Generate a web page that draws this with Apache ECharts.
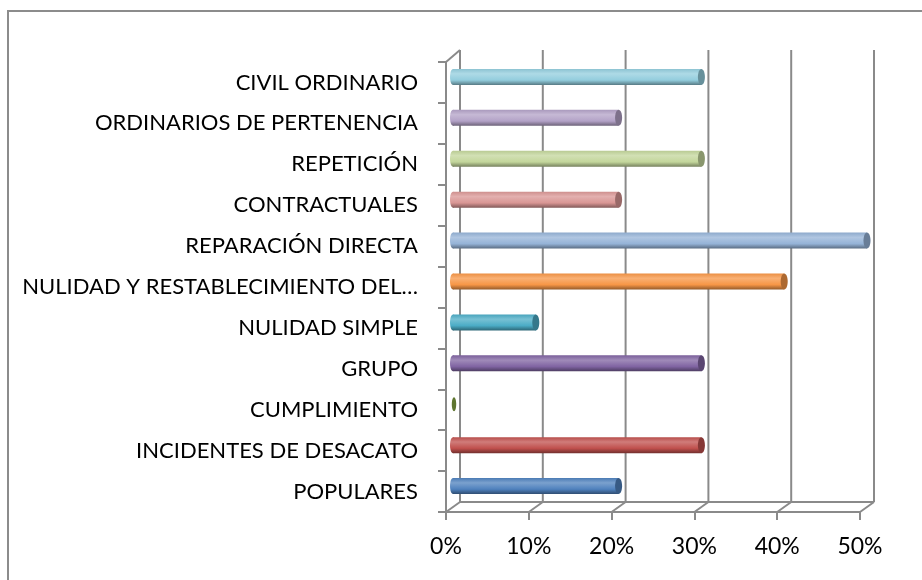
<!DOCTYPE html>
<html>
<head>
<meta charset="utf-8">
<script src="https://cdn.jsdelivr.net/npm/echarts@6/dist/echarts.min.js"></script>
<style>html,body{margin:0;padding:0;background:#fff;}#c{width:922px;height:580px;}</style>
</head>
<body>
<div id="c"></div>
<script>
var categories = ['POPULARES','INCIDENTES DE DESACATO','CUMPLIMIENTO','GRUPO','NULIDAD SIMPLE','NULIDAD Y RESTABLECIMIENTO DEL…','REPARACIÓN DIRECTA','CONTRACTUALES','REPETICIÓN','ORDINARIOS DE PERTENENCIA','CIVIL ORDINARIO'];
var values = [20, 30, 0, 30, 10, 40, 50, 20, 30, 20, 30];
var barColors = ['#4F81BD','#C0504D','#77933C','#8064A2','#4BACC6','#F79646','#95B3D7','#D99694','#C3D69B','#B3A2C7','#93CDDD'];
var xTicks = [0, 10, 20, 30, 40, 50];

var DX = 14, DY = -10;      // depth offset of the back wall
var BX = 7, BY = -5.5;      // bars sit at mid depth
var FONT = 'Lato';
var GRID = '#8a8a8a';

function hexToRgb(h){h=h.replace('#','');return [parseInt(h.substr(0,2),16),parseInt(h.substr(2,2),16),parseInt(h.substr(4,2),16)];}
function mix(c, t){ // t>0 towards white, t<0 towards black
  var r = hexToRgb(c);
  var o = r.map(function(v){ return Math.round(t>0 ? v+(255-v)*t : v*(1+t)); });
  return 'rgb('+o.join(',')+')';
}

var barData = values.map(function(v,i){ return [i, v]; });

function renderBar(params, api){
  var idx = api.value(0), v = api.value(1);
  var c = barColors[idx];
  var p0 = api.coord([0, idx]), p1 = api.coord([v, idx]);
  var h = 16;
  var x0 = p0[0]+BX, x1 = p1[0]+BX, cy = p0[1]+BY;
  if (v === 0) {
    return {type:'ellipse', shape:{cx:x0+1, cy:cy, rx:2.2, ry:7}, style:{fill:mix(c,-0.2)}};
  }
  var grad = new echarts.graphic.LinearGradient(0,0,0,1,[
    {offset:0, color:mix(c,-0.05)},
    {offset:0.3, color:mix(c,0.25)},
    {offset:0.7, color:c},
    {offset:1, color:mix(c,-0.4)}
  ]);
  return {type:'group', children:[
    {type:'ellipse', shape:{cx:x0, cy:cy, rx:3, ry:h/2}, style:{fill:grad}},
    {type:'rect', shape:{x:x0, y:cy-h/2, width:x1-x0, height:h}, style:{fill:grad}},
    {type:'ellipse', shape:{cx:x1, cy:cy, rx:3.5, ry:h/2}, style:{fill:mix(c,-0.3)}}
  ]};
}

function renderFrame(params, api){
  var cs = params.coordSys;
  var top = cs.y;
  var bot = cs.y + cs.height;
  var ch = [];
  var ls = {stroke:GRID, lineWidth:2};
  xTicks.forEach(function(t){
    var x = api.coord([t, 0])[0];
    ch.push({type:'line', shape:{x1:x+DX, y1:top+DY-2, x2:x+DX, y2:bot+DY}, style:ls});
    ch.push({type:'line', shape:{x1:x, y1:bot, x2:x+DX, y2:bot+DY}, style:ls});
  });
  var xa = api.coord([xTicks[0],0])[0], xb = api.coord([xTicks[xTicks.length-1],0])[0];
  ch.push({type:'line', shape:{x1:xa+DX, y1:bot+DY, x2:xb+DX, y2:bot+DY}, style:ls});
  ch.push({type:'line', shape:{x1:xa, y1:top, x2:xa+DX, y2:top+DY-2}, style:ls});
  return {type:'group', children:ch};
}

var chart = echarts.init(document.getElementById('c'), null, {renderer:'canvas'});
chart.setOption({
  animation:false,
  backgroundColor:'#fff',
  graphic:[{type:'rect', shape:{x:8, y:11, width:940, height:620}, style:{fill:'none', stroke:'#8c8c8c', lineWidth:2}, z:-10}],
  grid:{left:446, right:62, top:62, bottom:68},
  xAxis:{type:'value', min:0, max:50, interval:10,
    axisLine:{show:true, lineStyle:{color:GRID, width:2}},
    axisTick:{show:true, length:8, lineStyle:{color:GRID, width:2}},
    splitLine:{show:false},
    axisLabel:{formatter:'{value}%', color:'#000', fontFamily:FONT, fontSize:23, margin:23}
  },
  yAxis:{type:'category', data:categories,
    axisLine:{show:true, lineStyle:{color:GRID, width:2}},
    axisTick:{show:true, length:8, lineStyle:{color:GRID, width:2}},
    axisLabel:{color:'#000', fontFamily:FONT, fontSize:22, margin:28}
  },
  series:[
    {type:'custom', name:'frame', renderItem:renderFrame, data:[[0,0]], encode:{x:1,y:0}, clip:false, z:1, silent:true},
    {type:'custom', name:'bars', renderItem:renderBar, data:barData, encode:{x:1,y:0}, clip:false, z:5}
  ]
});
</script>
</body>
</html>
